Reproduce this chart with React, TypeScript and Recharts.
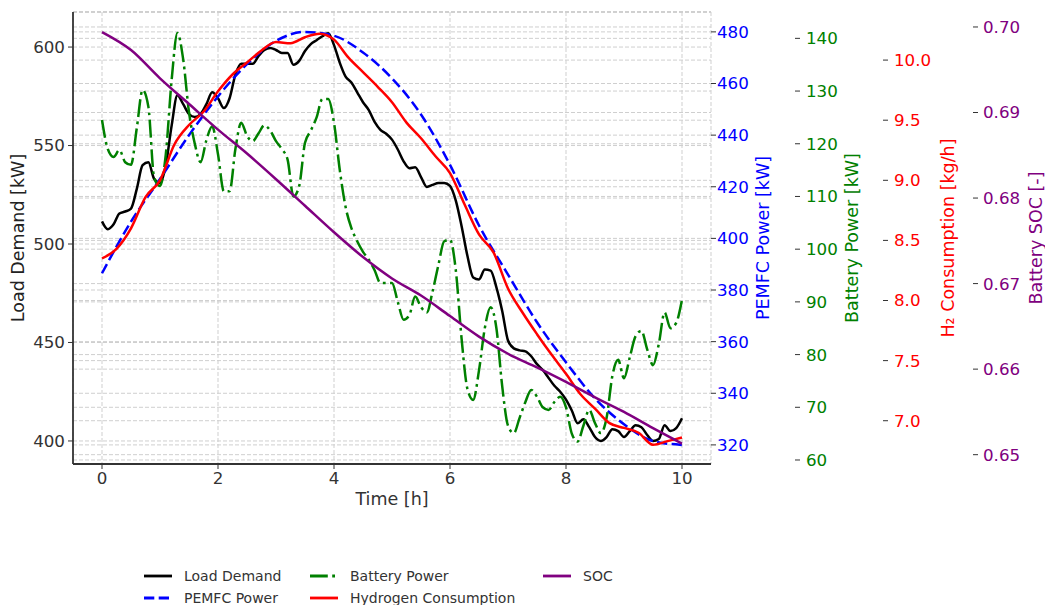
import React from 'react';
import { LineChart, Line, XAxis, YAxis, CartesianGrid, Legend } from 'recharts';

// time grids [h]
const TIME_FINE = [
  0, 0.1, 0.2, 0.3, 0.4, 0.5, 0.6, 0.7, 0.8, 0.9, 1, 1.1, 1.2, 1.3, 1.4, 1.5, 1.6, 1.7, 1.8, 1.9,
  2, 2.1, 2.2, 2.3, 2.4, 2.5, 2.6, 2.7, 2.8, 2.9, 3, 3.1, 3.2, 3.3, 3.4, 3.5, 3.6, 3.7, 3.8, 3.9,
  4, 4.1, 4.2, 4.3, 4.4, 4.5, 4.6, 4.7, 4.8, 4.9, 5, 5.1, 5.2, 5.3, 5.4, 5.5, 5.6, 5.7, 5.8, 5.9,
  6, 6.1, 6.2, 6.3, 6.4, 6.5, 6.6, 6.7, 6.8, 6.9, 7, 7.1, 7.2, 7.3, 7.4, 7.5, 7.6, 7.7, 7.8, 7.9,
  8, 8.1, 8.2, 8.3, 8.4, 8.5, 8.6, 8.7, 8.8, 8.9, 9, 9.1, 9.2, 9.3, 9.4, 9.5, 9.6, 9.7, 9.8, 9.9, 10,
];
const TIME_QUARTER = [
  0, 0.25, 0.5, 0.75, 1, 1.25, 1.5, 1.75, 2, 2.25, 2.5, 2.75, 3, 3.25, 3.5, 3.75, 4, 4.25, 4.5, 4.75,
  5, 5.25, 5.5, 5.75, 6, 6.25, 6.5, 6.75, 7, 7.25, 7.5, 7.75, 8, 8.25, 8.5, 8.75, 9, 9.25, 9.5, 9.75, 10,
];
const TIME_HALF = [0, 0.5, 1, 1.5, 2, 2.5, 3, 3.5, 4, 4.5, 5, 5.5, 6, 6.5, 7, 7.5, 8, 8.5, 9, 9.5, 10];

// Load demand [kW] (TIME_FINE)
const LOAD = [
  511.5, 507.5, 510, 515.5, 516.5, 518, 528, 540, 541.5, 533, 531, 540, 560, 575.5, 571, 566, 564.5, 566, 571, 577,
  574, 569, 574, 586, 591.5, 591.5, 591.5, 595.5, 598.5, 599.5, 598.5, 597, 597, 591, 593, 598, 601.5, 603.5, 605.5, 607,
  601, 592, 585, 582, 577, 572, 568, 562, 558, 556, 553, 548, 542, 538.5, 539, 534, 529, 530, 531, 531,
  529.5, 522, 509, 494, 483, 482, 487, 486.5, 478, 466, 451, 447, 446, 445.5, 443, 439, 436, 432, 428, 425,
  421, 415.5, 409, 411, 407, 402, 400, 402, 406, 405, 402, 405, 408, 407, 403, 400, 401, 408, 405, 406.5, 411.5,
];

// Battery power [kW] (TIME_FINE)
const BATTERY = [
  124.5, 119, 117.5, 118.8, 116.5, 116, 123, 130.2, 127, 113.5, 112, 118, 132, 141, 136, 126, 120, 116.5, 120.7, 123.3,
  118, 111, 111, 119, 124, 121.5, 120.5, 122, 123.5, 122.5, 120.5, 119, 117, 110, 112, 120.2, 122.5, 125, 128.5, 128.5,
  124, 115, 108, 104, 101.5, 99.5, 98, 96, 93.6, 93.6, 93.6, 90, 86.6, 87.5, 91, 89, 88, 92, 97, 101.5,
  101.8, 96, 83, 73.5, 71.4, 77, 85, 89, 85, 74, 66.5, 65.1, 68, 71, 73.3, 72, 70, 69.5, 71, 72,
  70, 65, 63.5, 66.5, 69.5, 67, 65.1, 68, 76, 79, 75.5, 79.5, 83.5, 84.5, 81, 78, 82, 88, 85, 86, 90.4,
];

// Hydrogen consumption [kg/h] (TIME_QUARTER)
const H2 = [
  8.35, 8.43, 8.6, 8.86, 9.0, 9.3, 9.46, 9.57, 9.74, 9.88, 9.98, 10.08, 10.15, 10.14, 10.19, 10.22, 10.17, 10.02, 9.9, 9.78,
  9.65, 9.48, 9.35, 9.2, 9.06, 8.8, 8.55, 8.4, 8.1, 7.9, 7.72, 7.55, 7.39, 7.22, 7.1, 6.98, 6.94, 6.9, 6.8, 6.83, 6.86,
];

// PEMFC power [kW] and SOC [-] (TIME_HALF)
const PEMFC = [386.5, 406.5, 423, 440, 455, 467.5, 476.5, 480, 478.5, 472, 462, 448, 428.5, 405, 386, 367.5, 352, 338, 328, 321.5, 320];
const SOC = [0.6994, 0.6973, 0.694, 0.691, 0.688, 0.6852, 0.6822, 0.6791, 0.676, 0.6731, 0.6706, 0.6686, 0.6662, 0.6638, 0.6618, 0.6602, 0.6585, 0.6567, 0.655, 0.6531, 0.6513];

const X_TICKS = [0, 2, 4, 6, 8, 10];
const LOAD_TICKS = [400, 450, 500, 550, 600];
const PEMFC_TICKS = [320, 340, 360, 380, 400, 420, 440, 460, 480];
const BATTERY_TICKS = [60, 70, 80, 90, 100, 110, 120, 130, 140];
const H2_TICKS = [7, 7.5, 8, 8.5, 9, 9.5, 10];
const SOC_TICKS = [0.65, 0.66, 0.67, 0.68, 0.69, 0.7];

const loadData = LOAD.map((v, i) => ({ t: TIME_FINE[i], v }));
const batteryData = BATTERY.map((v, i) => ({ t: TIME_FINE[i], v }));
const h2Data = H2.map((v, i) => ({ t: TIME_QUARTER[i], v }));
const pemfcData = PEMFC.map((v, i) => ({ t: TIME_HALF[i], v }));
const socData = SOC.map((v, i) => ({ t: TIME_HALF[i], v }));

const FONT = '"DejaVu Sans", sans-serif';
const TICK_FS = 16.7;
const TITLE_FS = 17.5;
const GRID = '#cfcfcf';

const AxisTitle = ({ viewBox, value, dx, fill }: any) => {
  const cx = viewBox.x + dx;
  const cy = viewBox.y + viewBox.height / 2;
  return (
    <text x={cx} y={cy} transform={`rotate(-90 ${cx} ${cy})`} textAnchor="middle" dominantBaseline="central"
      fill={fill} fontSize={TITLE_FS} fontFamily={FONT}>{value}</text>
  );
};

const LEGEND_ITEMS = [
  { label: 'Load Demand', color: '#000000', dash: undefined, x: 144, y: 18 },
  { label: 'PEMFC Power', color: '#0000ff', dash: '10.3 4.4', x: 144, y: 40 },
  { label: 'Battery Power', color: '#008000', dash: '17.8 4.4 2.8 4.4', x: 310, y: 18 },
  { label: 'Hydrogen Consumption', color: '#ff0000', dash: undefined, x: 310, y: 40 },
  { label: 'SOC', color: '#800080', dash: undefined, x: 543, y: 18 },
];

const renderLegend = () => (
  <svg width={1045} height={47} style={{ display: 'block' }}>
    {LEGEND_ITEMS.map((it) => (
      <g key={it.label}>
        <line x1={it.x} x2={it.x + 28} y1={it.y} y2={it.y} stroke={it.color} strokeWidth={2.8} strokeDasharray={it.dash} />
        <text x={it.x + 40} y={it.y} dominantBaseline="central" fontSize={14} fontFamily={FONT} fill="#333">{it.label}</text>
      </g>
    ))}
  </svg>
);

// axis ids are prefixed so the right-hand axes stack in this order: PEMFC, battery, H2, SOC
const rightAxis = (id: string, width: number, margin: number, domain: number[], ticks: number[], color: string, title: string, dx: number, fmt?: (v: number) => string) => (
  <YAxis yAxisId={id} orientation="right" type="number" width={width} domain={domain} ticks={ticks} allowDataOverflow
    axisLine={false} tickLine={{ stroke: '#333' }} tickSize={5} tickMargin={margin} tickFormatter={fmt}
    tick={{ fill: color, fontSize: TICK_FS, fontFamily: FONT }}
    label={<AxisTitle value={title} dx={dx} fill={color} />} />
);

export default function App() {
  return (
    <div style={{ position: 'absolute', left: 0, top: 0, width: 1045, height: 605, background: '#fff' }}>
      <LineChart width={1045} height={605} margin={{ top: 12, right: 0, bottom: 0, left: 0 }}>
        <CartesianGrid yAxisId="load" horizontal vertical stroke={GRID} strokeDasharray="4 2" />
        <CartesianGrid yAxisId="a_pemfc" horizontal vertical={false} stroke={GRID} strokeDasharray="4 2" />
        <CartesianGrid yAxisId="b_bat" horizontal vertical={false} stroke={GRID} strokeDasharray="4 2" />
        <CartesianGrid yAxisId="c_h2" horizontal vertical={false} stroke={GRID} strokeDasharray="4 2" />
        <CartesianGrid yAxisId="d_soc" horizontal vertical={false} stroke={GRID} strokeDasharray="4 2" />
        <XAxis dataKey="t" type="number" domain={[-0.5, 10.5]} ticks={X_TICKS} allowDataOverflow height={94}
          axisLine={{ stroke: '#333', strokeWidth: 1.8 }} tickLine={{ stroke: '#333' }} tickSize={5} tickMargin={3}
          tick={{ fill: '#333', fontSize: TICK_FS, fontFamily: FONT }}
          label={{ value: 'Time [h]', position: 'insideTop', offset: 29, fill: '#333', fontSize: TITLE_FS, fontFamily: FONT }} />
        <YAxis yAxisId="load" type="number" width={73} domain={[388.3, 617.8]} ticks={LOAD_TICKS} allowDataOverflow
          axisLine={{ stroke: '#333', strokeWidth: 1.8 }} tickLine={{ stroke: '#333' }} tickSize={5} tickMargin={3}
          tick={{ fill: '#333', fontSize: TICK_FS, fontFamily: FONT }}
          label={<AxisTitle value="Load Demand [kW]" dx={18} fill="#222" />} />
        {rightAxis('a_pemfc', 84, 1, [312.6, 487.7], PEMFC_TICKS, '#0000ff', 'PEMFC Power [kW]', 52)}
        {rightAxis('b_bat', 88, 6, [59.24, 145.0], BATTERY_TICKS, '#008000', 'Battery Power [kW]', 57)}
        {rightAxis('c_h2', 90, 6, [6.64, 10.4], H2_TICKS, '#ff0000', 'H\u2082 Consumption [kg/h]', 65, (v) => v.toFixed(1))}
        {rightAxis('d_soc', 72, 5, [0.64891, 0.70175], SOC_TICKS, '#800080', 'Battery SOC [-]', 63, (v) => v.toFixed(2))}
        <Legend verticalAlign="bottom" content={renderLegend} wrapperStyle={{ left: 0, bottom: 0, width: 1045, height: 47 }} />
        <Line yAxisId="load" data={loadData} dataKey="v" name="Load Demand" type="monotone" stroke="#000" strokeWidth={2.5} dot={false} isAnimationActive={false} />
        <Line yAxisId="a_pemfc" data={pemfcData} dataKey="v" name="PEMFC Power" type="monotone" stroke="#0000ff" strokeWidth={2.5} strokeDasharray="10.3 4.4" dot={false} isAnimationActive={false} />
        <Line yAxisId="b_bat" data={batteryData} dataKey="v" name="Battery Power" type="monotone" stroke="#008000" strokeWidth={2.5} strokeDasharray="17.8 4.4 2.8 4.4" dot={false} isAnimationActive={false} />
        <Line yAxisId="c_h2" data={h2Data} dataKey="v" name="Hydrogen Consumption" type="monotone" stroke="#ff0000" strokeWidth={2.5} dot={false} isAnimationActive={false} />
        <Line yAxisId="d_soc" data={socData} dataKey="v" name="SOC" type="monotone" stroke="#800080" strokeWidth={2.5} dot={false} isAnimationActive={false} />
      </LineChart>
    </div>
  );
}
